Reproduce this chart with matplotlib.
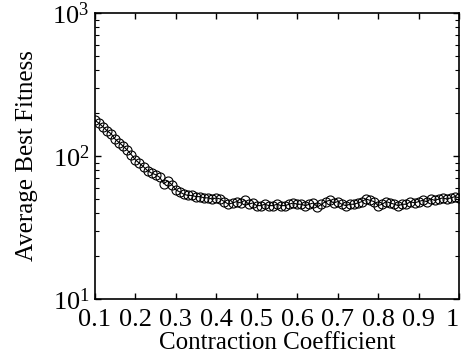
import numpy as np
import matplotlib.pyplot as plt

plt.rcParams['font.family'] = ['Liberation Serif', 'DejaVu Serif']
plt.rcParams['mathtext.fontset'] = 'stix'

# contraction coefficient 0.10 .. 1.00 step 0.01
coeff = np.round(np.arange(0.10, 1.001, 0.01), 2)

fitness = [
    178, 169, 160, 150, 143, 131, 124, 117, 110, 102,
    94, 89, 84, 79, 76, 74, 71, 64, 67, 63,
    58, 56, 54, 53, 53, 52, 52, 51, 51, 50,
    51, 50, 48, 46, 47, 48, 47, 49, 46, 47,
    45, 45, 46, 45, 45, 46, 45, 45, 46, 47,
    46, 46, 45, 46, 47, 44, 46, 48, 49, 47,
    48, 46, 45, 46, 46, 47, 48, 50, 49, 48,
    45, 46, 48, 47, 46, 45, 46, 46, 48, 47,
    48, 49, 48, 50, 49, 50, 51, 50, 51, 52,
    51,
]

xticks = [0.1, 0.2, 0.3, 0.4, 0.5, 0.6, 0.7, 0.8, 0.9, 1.0]
xticklabels = ['0.1', '0.2', '0.3', '0.4', '0.5', '0.6', '0.7', '0.8', '0.9', '1']

fig = plt.figure(figsize=(4.62, 3.62), dpi=100)
ax = fig.add_axes([0.2056, 0.174, 0.7879, 0.790])

ax.semilogy(coeff, fitness, '-o', color='black', lw=0.8,
            markersize=6.5, markerfacecolor='none', markeredgewidth=0.8)

ax.set_xlim(0.1, 1.0)
ax.set_ylim(10, 1000)
ax.set_xticks(xticks)
ax.set_xticklabels(xticklabels)
# last label sits against the figure edge, keep it inside
ax.get_xticklabels()[-1].set_horizontalalignment('right')
ax.set_xlabel('Contraction Coefficient', fontsize=18, labelpad=1)
ax.set_ylabel('Average Best Fitness', fontsize=18, labelpad=10)

for s in ax.spines.values():
    s.set_linewidth(1.2)
ax.tick_params(which='both', direction='in', top=True, right=True, labelsize=19)
ax.tick_params(which='major', length=4, width=1)
ax.tick_params(which='minor', length=3, width=0.8)
ax.tick_params(axis='x', pad=7)
ax.tick_params(axis='y', pad=4)

fig.savefig('out.png', dpi=100)
